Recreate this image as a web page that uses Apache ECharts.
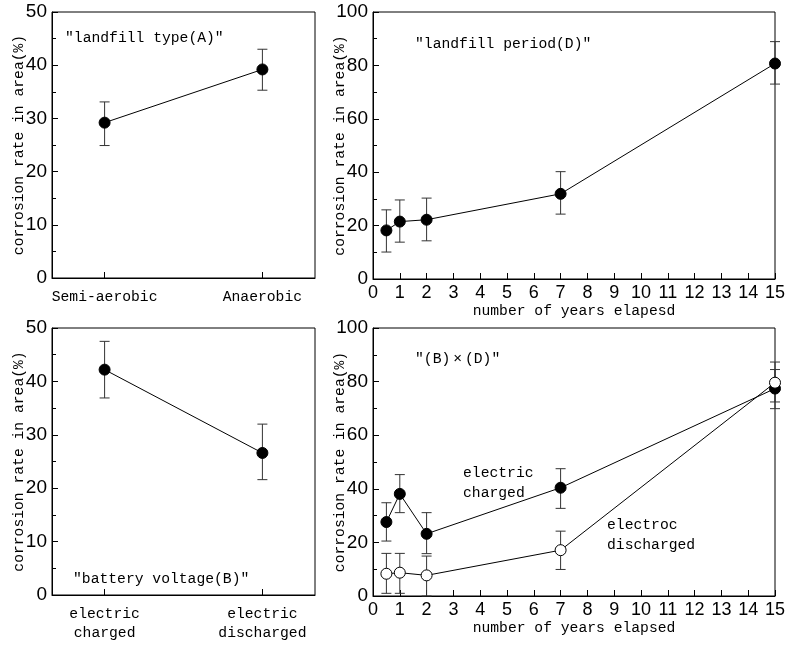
<!DOCTYPE html>
<html>
<head>
<meta charset="UTF-8">
<title></title>
<style>html,body{margin:0;padding:0;background:#fff;}</style>
</head>
<body>
<div id="main" style="width: 788px;height:645px;"></div>
<script src="https://cdn.jsdelivr.net/npm/echarts@6/dist/echarts.min.js"></script>
<script type="text/javascript">
// landfill type (A)
var typeCats = ['Semi-aerobic', 'Anaerobic'];
var typeMean = [29.2, 39.2];
var typeLow = [24.9, 35.3];
var typeHigh = [33.1, 43.0];

// landfill period (D)
var years = [0.5, 1, 2, 7, 15];
var periodMean = [18.2, 21.5, 22.2, 31.9, 80.7];
var periodLow = [10.1, 13.8, 14.3, 24.3, 73.0];
var periodHigh = [25.9, 29.6, 30.3, 40.2, 88.9];

// battery voltage (B)
var voltCats = ['electric\ncharged', 'electric\ndischarged'];
var voltMean = [42.2, 26.6];
var voltLow = [36.9, 21.6];
var voltHigh = [47.5, 32.0];

// (B) x (D)
var chargedMean = [27.6, 38.1, 23.2, 40.4, 77.4];
var chargedLow = [20.5, 31.1, 15.8, 32.7, 69.9];
var chargedHigh = [34.8, 45.3, 31.1, 47.5, 84.5];
var dischMean = [8.3, 8.7, 7.7, 17.1, 79.6];
var dischLow = [1.0, 1.0, 0, 9.9, 72.4];
var dischHigh = [15.9, 15.9, 14.9, 24.2, 87.3];

var mono = "'Liberation Mono', 'DejaVu Sans Mono', monospace";
var narrow = "'Liberation Sans Narrow', 'Liberation Sans', sans-serif";
var yName = 'corrosion rate in area(%)';

var myChart = echarts.init(document.getElementById('main'));

function gridAt(l, t, w, h) {
	return {left: l, top: t, width: w, height: h, show: true, borderColor: '#000', borderWidth: 1,
		backgroundColor: 'transparent', containLabel: false, outerBoundsMode: 'none'};
}

function yAx(idx, max, step) {
	return {
		type: 'value', gridIndex: idx, min: 0, max: max, interval: step,
		name: yName, nameLocation: 'middle', nameRotate: 90, nameGap: 25, nameMoveOverlap: false,
		nameTextStyle: {fontFamily: mono, fontSize: 14.7, color: '#000'},
		axisLine: {show: true, onZero: false, lineStyle: {color: '#000', width: 1}},
		axisTick: {show: true, inside: true, length: 6, lineStyle: {color: '#000'}},
		minorTick: {show: true, splitNumber: 2, length: 4, lineStyle: {color: '#000'}},
		splitLine: {show: false},
		axisLabel: {fontFamily: narrow, fontSize: 19, color: '#000', margin: 5}
	};
}

// two categories at 1/5 and 4/5 of the width
function catAx(idx, cats) {
	return {
		type: 'value', gridIndex: idx, min: -1 / 3, max: 4 / 3,
		axisLine: {show: true, onZero: false, lineStyle: {color: '#000'}},
		axisTick: {show: true, inside: true, length: 6, customValues: [0, 1], lineStyle: {color: '#000'}},
		splitLine: {show: false},
		axisLabel: {customValues: [0, 1], fontFamily: mono, fontSize: 14.7, color: '#000',
			lineHeight: 19, margin: 10, formatter: function (v) { return cats[Math.round(v)]; }}
	};
}

function yearAx(idx, name) {
	return {
		type: 'value', gridIndex: idx, min: 0, max: 15, interval: 1,
		name: name, nameLocation: 'middle', nameGap: 25,
		nameTextStyle: {fontFamily: mono, fontSize: 14.7, color: '#000'},
		axisLine: {show: true, onZero: false, lineStyle: {color: '#000'}},
		axisTick: {show: true, inside: true, length: 6, lineStyle: {color: '#000'}},
		splitLine: {show: false},
		axisLabel: {fontFamily: narrow, fontSize: 18, color: '#000', margin: 5}
	};
}

function points(idx, xs, ys, open) {
	return {
		type: 'line', xAxisIndex: idx, yAxisIndex: idx, z: 5,
		data: xs.map(function (x, i) { return [x, ys[i]]; }),
		symbol: 'circle', symbolSize: 11, showSymbol: true,
		lineStyle: {color: '#000', width: 1},
		itemStyle: {color: open ? '#fff' : '#000', borderColor: '#000', borderWidth: 1},
		clip: false, animation: false
	};
}

function errorBars(idx, xs, lo, hi) {
	return {
		type: 'custom', xAxisIndex: idx, yAxisIndex: idx, z: 2, clip: false,
		data: xs.map(function (x, i) { return [x, lo[i], hi[i]]; }),
		renderItem: function (params, api) {
			var a = api.coord([api.value(0), api.value(1)]);
			var b = api.coord([api.value(0), api.value(2)]);
			var w = 5;
			var st = {stroke: '#333', lineWidth: 1};
			return {type: 'group', children: [
				{type: 'line', shape: {x1: a[0], y1: a[1], x2: b[0], y2: b[1]}, style: st},
				{type: 'line', shape: {x1: a[0] - w, y1: a[1], x2: a[0] + w, y2: a[1]}, style: st},
				{type: 'line', shape: {x1: b[0] - w, y1: b[1], x2: b[0] + w, y2: b[1]}, style: st}
			]};
		},
		animation: false
	};
}

function note(l, t, txt) {
	return {type: 'text', left: l, top: t,
		style: {text: txt, fontFamily: mono, fontSize: 14.7, lineHeight: 20, fill: '#000'}};
}

var catIdx = [0, 1];

option = {
	animation: false,
	grid: [
		gridAt(52, 12, 263, 266),
		gridAt(373, 12, 402, 267),
		gridAt(52, 328, 263, 267),
		gridAt(373, 328, 402, 268)
	],
	xAxis: [
		catAx(0, typeCats),
		yearAx(1, 'number of years elapesd'),
		catAx(2, voltCats),
		yearAx(3, 'number of years elapsed')
	],
	yAxis: [yAx(0, 50, 10), yAx(1, 100, 20), yAx(2, 50, 10), yAx(3, 100, 20)],
	series: [
		errorBars(0, catIdx, typeLow, typeHigh),
		points(0, catIdx, typeMean, false),
		errorBars(1, years, periodLow, periodHigh),
		points(1, years, periodMean, false),
		errorBars(2, catIdx, voltLow, voltHigh),
		points(2, catIdx, voltMean, false),
		errorBars(3, years, chargedLow, chargedHigh),
		errorBars(3, years, dischLow, dischHigh),
		points(3, years, chargedMean, false),
		points(3, years, dischMean, true)
	],
	graphic: [
		note(65, 28, '\u2033landfill type(A)\u2033'),
		note(415, 34, '\u2033landfill period(D)\u2033'),
		note(73, 569, '\u2033battery voltage(B)\u2033'),
		note(415, 349, '\u2033(B)\u2009\u00d7\u2009(D)\u2033'),
		note(463, 463, 'electric\ncharged'),
		note(607, 515, 'electroc\ndischarged')
	]
};

myChart.setOption(option);
</script>
</body>
</html>
